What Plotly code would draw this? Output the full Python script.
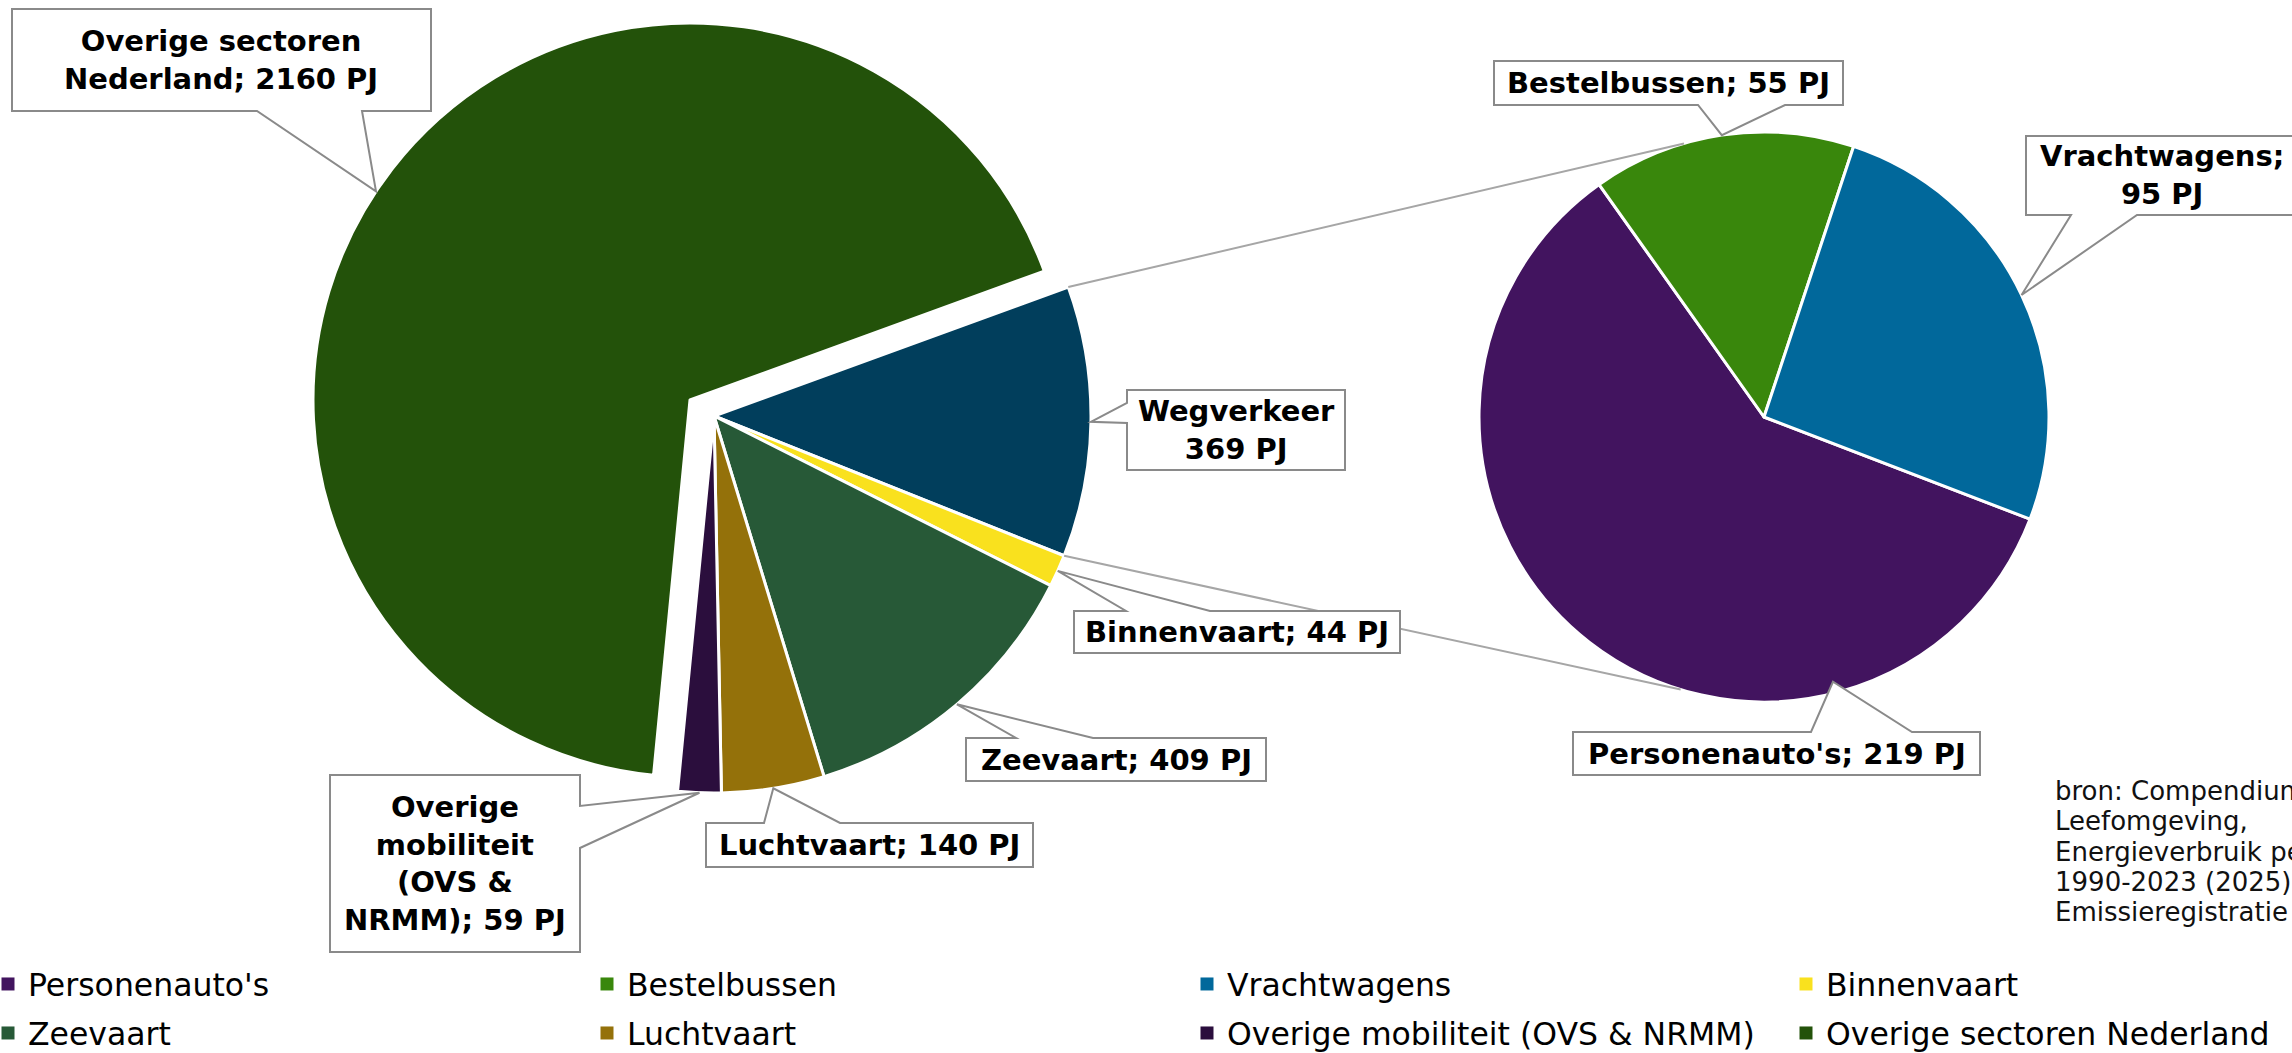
import math
import plotly.graph_objects as go

W, H = 2292, 1053

# ---------------- data ----------------
main_labels = ["Wegverkeer", "Binnenvaart", "Zeevaart", "Luchtvaart",
               "Overige mobiliteit (OVS & NRMM)", "Overige sectoren Nederland"]
main_values = [369, 44, 409, 140, 59, 2160]

road_labels = ["Personenauto's", "Bestelbussen", "Vrachtwagens"]
road_values = [219, 55, 95]

unit = "PJ"

legend_labels = ["Personenauto's", "Bestelbussen", "Vrachtwagens", "Binnenvaart",
                 "Zeevaart", "Luchtvaart", "Overige mobiliteit (OVS & NRMM)",
                 "Overige sectoren Nederland"]

source_lines = ["bron: Compendium voor de", "Leefomgeving,",
                "Energieverbruik per sector,", "1990-2023 (2025),",
                "Emissieregistratie"]

# ---------------- style ----------------
colors = {
    "Wegverkeer": "#013E5C",
    "Binnenvaart": "#F9E11E",
    "Zeevaart": "#275937",
    "Luchtvaart": "#94710A",
    "Overige mobiliteit (OVS & NRMM)": "#2B0E3D",
    "Overige sectoren Nederland": "#23520A",
    "Personenauto's": "#42145F",
    "Bestelbussen": "#39870C",
    "Vrachtwagens": "#01689B",
}
TRANSP = "rgba(0,0,0,0)"
FONT = "DejaVu Sans"

GREEN_C = (690, 400)
GROUP_C = (714, 416)
R_MAIN = 377
ROAD_C = (1764, 417)
R_ROAD = 285
ROT_MAIN = 70
ROT_ROAD = 111


def dom(c, r):
    cx, cy = c
    return dict(x=[(cx - r) / W, (cx + r) / W], y=[1 - (cy + r) / H, 1 - (cy - r) / H])


def px(x):
    return x / W


def py(y):
    return 1 - y / H


def slice_angles(values, rotation):
    tot = sum(values)
    out = []
    a = rotation
    for v in values:
        b = a + 360.0 * v / tot
        out.append((a, b))
        a = b
    return out


def polar(c, r, ang):
    t = math.radians(ang)
    return (c[0] + r * math.sin(t), c[1] - r * math.cos(t))


fig = go.Figure()

n_group = len(main_values) - 1
group_sum = sum(main_values[:n_group])

# Big pie: "Overige sectoren" slice (not exploded)
fig.add_trace(go.Pie(
    labels=["Mobiliteit", main_labels[-1]],
    values=[group_sum, main_values[-1]],
    sort=False, direction="clockwise", rotation=ROT_MAIN,
    marker=dict(colors=[TRANSP, colors[main_labels[-1]]],
                line=dict(color="white", width=[0, 3])),
    textinfo="none", showlegend=False, hoverinfo="skip",
    domain=dom(GREEN_C, R_MAIN),
))

# Big pie: mobility slices (exploded as a group)
fig.add_trace(go.Pie(
    labels=main_labels, values=main_values,
    sort=False, direction="clockwise", rotation=ROT_MAIN,
    marker=dict(colors=[colors[l] for l in main_labels[:-1]] + [TRANSP],
                line=dict(color="white", width=[3] * n_group + [0])),
    textinfo="none", showlegend=False, hoverinfo="label+value",
    domain=dom(GROUP_C, R_MAIN),
))

# Second pie: breakdown of road traffic
fig.add_trace(go.Pie(
    labels=road_labels, values=road_values,
    sort=False, direction="clockwise", rotation=ROT_ROAD,
    marker=dict(colors=[colors[l] for l in road_labels],
                line=dict(color="white", width=3)),
    textinfo="none", showlegend=False, hoverinfo="label+value",
    domain=dom(ROAD_C, R_ROAD),
))

main_ang = slice_angles(main_values, ROT_MAIN)
road_ang = slice_angles(road_values, ROT_ROAD)

shapes = []
annotations = []

# connector lines between the pies
p_top = polar(GROUP_C, R_MAIN, main_ang[0][0])
p_bot = polar(GROUP_C, R_MAIN, main_ang[0][1])
q_top = polar(ROAD_C, R_ROAD, -16.3)
q_bot = polar(ROAD_C, R_ROAD, 197)
for p, q in [(p_top, q_top), (p_bot, q_bot)]:
    shapes.append(dict(type="line", xref="paper", yref="paper",
                       x0=px(p[0]), y0=py(p[1]), x1=px(q[0]), y1=py(q[1]),
                       line=dict(color="#A6A6A6", width=2)))

# callouts: (label, text, box, side, base points, pointer angle override, radius factor)
mv = dict(zip(main_labels, main_values))
rv = dict(zip(road_labels, road_values))
callouts = [
    ("Overige sectoren Nederland",
     f"Overige sectoren<br>Nederland; {mv['Overige sectoren Nederland']} {unit}",
     (12, 9, 431, 111), "bottom", (257, 362), 303.6, 1.0),
    ("Wegverkeer", f"Wegverkeer<br>{mv['Wegverkeer']} {unit}",
     (1127, 390, 1345, 470), "left", (403, 423), None, 1.0),
    ("Binnenvaart", f"Binnenvaart; {mv['Binnenvaart']} {unit}",
     (1074, 611, 1400, 653), "top", (1126, 1210), None, 1.0),
    ("Zeevaart", f"Zeevaart; {mv['Zeevaart']} {unit}",
     (966, 738, 1266, 781), "top", (1016, 1093), None, 1.0),
    ("Luchtvaart", f"Luchtvaart; {mv['Luchtvaart']} {unit}",
     (706, 823, 1033, 867), "top", (764, 840), None, 1.0),
    ("Overige mobiliteit (OVS & NRMM)",
     f"Overige<br>mobiliteit<br>(OVS &amp;<br>NRMM); {mv['Overige mobiliteit (OVS & NRMM)']} {unit}",
     (330, 775, 580, 952), "right", (806, 848), None, 1.0),
    ("Bestelbussen", f"Bestelbussen; {rv['Bestelbussen']} {unit}",
     (1494, 61, 1843, 105), "bottom", (1698, 1785), None, 1.0),
    ("Vrachtwagens", f"Vrachtwagens;<br>{rv['Vrachtwagens']} {unit}",
     (2026, 136, 2298, 215), "bottom", (2071, 2137), None, 1.0),
    ("Personenauto's", f"Personenauto's; {rv['Personenauto' + chr(39) + 's']} {unit}",
     (1573, 732, 1980, 775), "top", (1811, 1912), 165.4, 0.96),
]


def tip_for(label, override, f):
    if label in road_labels:
        i = road_labels.index(label)
        a0, a1 = road_ang[i]
        c, r = ROAD_C, R_ROAD
    else:
        i = main_labels.index(label)
        a0, a1 = main_ang[i]
        c, r = (GREEN_C if label == main_labels[-1] else GROUP_C), R_MAIN
    ang = override if override is not None else (a0 + a1) / 2
    return polar(c, r * f, ang)


def P(x, y):
    return f"{px(x):.6f},{py(y):.6f}"


for label, text, (x0, y0, x1, y1), side, (a, b), ov, f in callouts:
    tx, ty = tip_for(label, ov, f)
    if side == "bottom":
        pts = [(x0, y0), (x1, y0), (x1, y1), (b, y1), (tx, ty), (a, y1), (x0, y1)]
    elif side == "top":
        pts = [(x0, y0), (a, y0), (tx, ty), (b, y0), (x1, y0), (x1, y1), (x0, y1)]
    elif side == "left":
        pts = [(x0, y0), (x1, y0), (x1, y1), (x0, y1), (x0, b), (tx, ty), (x0, a)]
    else:  # right
        pts = [(x0, y0), (x1, y0), (x1, a), (tx, ty), (x1, b), (x1, y1), (x0, y1)]
    path = "M " + " L ".join(P(x, y) for x, y in pts) + " Z"
    shapes.append(dict(type="path", xref="paper", yref="paper", path=path,
                       fillcolor="white", line=dict(color="#8A8A8A", width=2)))
    annotations.append(dict(
        x=px((x0 + x1) / 2), y=py((y0 + y1) / 2), xref="paper", yref="paper",
        xanchor="center", yanchor="middle", showarrow=False, align="center",
        text=text, font=dict(family=FONT, size=29, color="black", weight="bold"),
    ))

# source text
for i, line in enumerate(source_lines):
    annotations.append(dict(
        x=px(2053), y=py(791 + i * 30.3), xref="paper", yref="paper",
        xanchor="left", yanchor="middle", showarrow=False, align="left",
        text=line, font=dict(family=FONT, size=26, color="#111111"),
    ))

# legend (one small legend per entry, 4 columns x 2 rows)
col_text_x = [28, 627, 1227, 1826]
row_y = [984, 1033]
legend_layouts = {}
for k, lab in enumerate(legend_labels):
    key = "legend" if k == 0 else f"legend{k + 1}"
    fig.add_trace(go.Scatter(
        x=[None], y=[None], mode="markers", name=lab, legend=key,
        marker=dict(symbol="square", size=13, color=colors[lab]),
        showlegend=True, hoverinfo="skip",
    ))
    col, row = k % 4, k // 4
    legend_layouts[key] = dict(
        x=px(col_text_x[col] - 40), y=py(row_y[row]),
        xanchor="left", yanchor="middle", orientation="v",
        bgcolor="rgba(0,0,0,0)", borderwidth=0,
        font=dict(family=FONT, size=31.5, color="black"),
        itemclick=False, itemdoubleclick=False,
    )

fig.update_layout(
    width=W, height=H,
    margin=dict(l=0, r=0, t=0, b=0, pad=0, autoexpand=False),
    paper_bgcolor="white", plot_bgcolor="white",
    xaxis=dict(visible=False), yaxis=dict(visible=False),
    shapes=shapes, annotations=annotations,
    font=dict(family=FONT),
    **legend_layouts,
)

fig.write_html(
    "out.html",
    config={"displayModeBar": False},
    post_script="document.body.style.margin='0';document.body.style.overflow='hidden';",
)
